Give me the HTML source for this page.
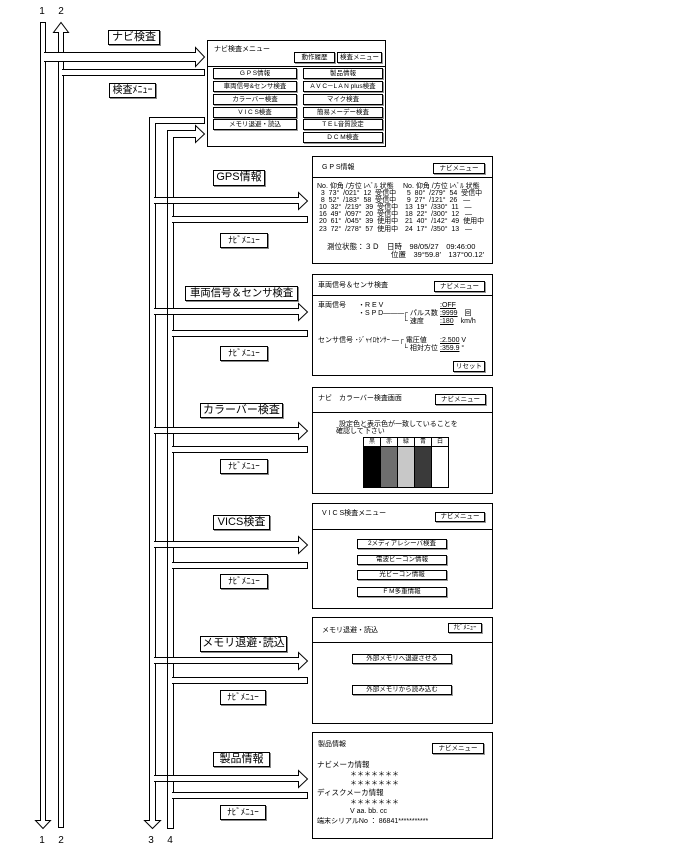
<!DOCTYPE html>
<html><head><meta charset="utf-8"><style>
body{margin:0;background:#fff;}
#c{position:relative;width:689px;height:853px;overflow:hidden;font-family:"Liberation Sans","Noto Sans CJK JP",sans-serif;color:#000;}
.bx{position:absolute;border:1px solid #000;background:#fff;box-sizing:border-box;}
.lb{position:absolute;border:1px solid #000;background:#fff;box-sizing:border-box;font-size:11px;line-height:13px;text-align:center;white-space:nowrap;box-shadow:1px 1px 0 #888;overflow:hidden;}
.bt{position:absolute;border:1px solid #000;box-sizing:border-box;font-size:6.5px;text-align:center;white-space:nowrap;background:#fff;box-shadow:1px 1px 0 #999;}
.t{position:absolute;font-size:7px;line-height:7px;white-space:nowrap;}
.hl{position:absolute;height:1px;background:#000;}
</style></head><body><div id="c">
<svg width="689" height="853" style="position:absolute;left:0;top:0" fill="#fff" stroke="#000" stroke-width="1">
<text x="42" y="14" font-size="10" fill="#000" stroke="none" text-anchor="middle" font-family="Liberation Sans">1</text>
<text x="61" y="14" font-size="10" fill="#000" stroke="none" text-anchor="middle" font-family="Liberation Sans">2</text>
<text x="42" y="843" font-size="10" fill="#000" stroke="none" text-anchor="middle" font-family="Liberation Sans">1</text>
<text x="61" y="843" font-size="10" fill="#000" stroke="none" text-anchor="middle" font-family="Liberation Sans">2</text>
<text x="151" y="843" font-size="10" fill="#000" stroke="none" text-anchor="middle" font-family="Liberation Sans">3</text>
<text x="170" y="843" font-size="10" fill="#000" stroke="none" text-anchor="middle" font-family="Liberation Sans">4</text>
<path d="M40.5,820.5 V22.5 H45.5 V820.5 H50.5 L43,828.5 L35.5,820.5 Z"/>
<path d="M58.5,827.5 V32.5 H53.5 L61,22.5 L68.5,32.5 H63.5 V827.5 Z"/>
<path d="M44,52.5 H195.5 V47.5 L204.5,57 L195.5,66.5 V61.5 H44"/>
<path d="M62,69.5 H204.5 V75.5 H62"/>
<path d="M149.5,820.5 V117.5 H204.5 V123.5 H155.5 V820.5 H160.5 L152.5,828.5 L144.5,820.5 Z"/>
<path d="M167.5,828.5 V130.5 H195.5 V125.5 L204.5,134 L195.5,142.5 V137.5 H173.5 V828.5 Z"/>
<g>
<path d="M154,197.5 H298.5 V192.5 L307.5,201 L298.5,209.5 V203.5 H154"/><line x1="167.5" y1="197" x2="167.5" y2="204"/><path d="M172,216.5 H307.5 V222.5 H172"/>
<path d="M154,308.5 H298.5 V303.5 L307.5,312 L298.5,320.5 V314.5 H154"/><line x1="167.5" y1="308" x2="167.5" y2="315"/><path d="M172,330.5 H307.5 V336.5 H172"/>
<path d="M154,427.5 H298.5 V422.5 L307.5,431 L298.5,439.5 V433.5 H154"/><line x1="167.5" y1="427" x2="167.5" y2="434"/><path d="M172,446.5 H307.5 V452.5 H172"/>
<path d="M154,541.5 H298.5 V536.5 L307.5,545 L298.5,553.5 V547.5 H154"/><line x1="167.5" y1="541" x2="167.5" y2="548"/><path d="M172,562.5 H307.5 V568.5 H172"/>
<path d="M154,657.5 H298.5 V652.5 L307.5,661 L298.5,669.5 V663.5 H154"/><line x1="167.5" y1="657" x2="167.5" y2="664"/><path d="M172,677.5 H307.5 V683.5 H172"/>
<path d="M154,775.5 H298.5 V770.5 L307.5,779 L298.5,787.5 V781.5 H154"/><line x1="167.5" y1="775" x2="167.5" y2="782"/><path d="M172,792.5 H307.5 V798.5 H172"/>
</g>
</svg>

<div class="lb" style="left:108px;top:30px;width:52px;height:15px;">ナビ検査</div>
<div class="lb" style="left:109px;top:83px;width:47px;height:15px;font-size:10px;">検査ﾒﾆｭｰ</div>
<div class="lb" style="left:213px;top:170px;width:52px;height:16px;">GPS情報</div>
<div class="lb" style="left:220px;top:233px;width:48px;height:15px;font-size:9px;">ﾅﾋﾞﾒﾆｭｰ</div>
<div class="lb" style="left:185px;top:286px;width:113px;height:15px;font-size:10.5px;letter-spacing:-0.2px;">車両信号＆センサ検査</div>
<div class="lb" style="left:220px;top:346px;width:48px;height:15px;font-size:9px;">ﾅﾋﾞﾒﾆｭｰ</div>
<div class="lb" style="left:200px;top:403px;width:83px;height:15px;">カラーバー検査</div>
<div class="lb" style="left:220px;top:459px;width:48px;height:15px;font-size:9px;">ﾅﾋﾞﾒﾆｭｰ</div>
<div class="lb" style="left:213px;top:515px;width:57px;height:15px;">VICS検査</div>
<div class="lb" style="left:220px;top:574px;width:48px;height:15px;font-size:9px;">ﾅﾋﾞﾒﾆｭｰ</div>
<div class="lb" style="left:200px;top:636px;width:87px;height:16px;">メモリ退避･読込</div>
<div class="lb" style="left:220px;top:690px;width:46px;height:15px;font-size:9px;">ﾅﾋﾞﾒﾆｭｰ</div>
<div class="lb" style="left:213px;top:752px;width:57px;height:15px;">製品情報</div>
<div class="lb" style="left:220px;top:805px;width:46px;height:15px;font-size:9px;">ﾅﾋﾞﾒﾆｭｰ</div>

<div class="bx" style="left:207px;top:40px;width:179px;height:107px;"></div>
<div class="hl" style="left:207px;top:66px;width:179px;"></div>
<div class="t" style="left:214px;top:46px;">ナビ検査メニュー</div>
<div class="bt" style="left:294px;top:52px;width:41px;height:11px;line-height:9px;">動作履歴</div>
<div class="bt" style="left:337px;top:52px;width:45px;height:11px;line-height:9px;">検査メニュー</div>
<div class="bt" style="left:213px;top:68px;width:84px;height:11px;line-height:9px;">G P S情報</div>
<div class="bt" style="left:213px;top:81px;width:84px;height:11px;line-height:9px;">車両信号&amp;センサ検査</div>
<div class="bt" style="left:213px;top:94px;width:84px;height:11px;line-height:9px;">カラーバー検査</div>
<div class="bt" style="left:213px;top:107px;width:84px;height:11px;line-height:9px;">V I C S検査</div>
<div class="bt" style="left:213px;top:119px;width:84px;height:11px;line-height:9px;">メモリ退避・読込</div>
<div class="bt" style="left:303px;top:68px;width:80px;height:11px;line-height:9px;">製品情報</div>
<div class="bt" style="left:303px;top:81px;width:80px;height:11px;line-height:9px;">A V C－L A N plus検査</div>
<div class="bt" style="left:303px;top:94px;width:80px;height:11px;line-height:9px;">マイク検査</div>
<div class="bt" style="left:303px;top:107px;width:80px;height:11px;line-height:9px;">簡易メーデー検査</div>
<div class="bt" style="left:303px;top:119px;width:80px;height:11px;line-height:9px;">T E L音質設定</div>
<div class="bt" style="left:303px;top:132px;width:80px;height:11px;line-height:9px;">D C M検査</div>

<div class="bx" style="left:312px;top:156px;width:181px;height:108px;"></div>
<div class="hl" style="left:312px;top:177px;width:181px;"></div>
<div class="t" style="left:322px;top:164px;">G P S情報</div>
<div class="bt" style="left:433px;top:163px;width:52px;height:11px;line-height:9px;">ナビメニュー</div>
<div class="t" style="left:317px;top:183px;font-size:7px;line-height:7.1px;white-space:pre;">No. 仰角 /方位 ﾚﾍﾞﾙ 状態
  3  73°  /021°  12  受信中
  8  52°  /183°  58  受信中
 10  32°  /219°  39  受信中
 16  49°  /097°  20  受信中
 20  61°  /045°  39  使用中
 23  72°  /278°  57  使用中</div>
<div class="t" style="left:403px;top:183px;font-size:7px;line-height:7.1px;white-space:pre;">No. 仰角 /方位 ﾚﾍﾞﾙ 状態
  5  80°  /279°  54  受信中
  9  27°  /121°  26   ―
 13  19°  /330°  11   ―
 18  22°  /300°  12   ―
 21  40°  /142°  49  使用中
 24  17°  /350°  13   ―</div>
<div class="t" style="left:327px;top:243px;font-size:7.5px;">測位状態：３Ｄ　日時　98/05/27　09:46:00</div>
<div class="t" style="left:391px;top:251px;font-size:7.5px;">位置　39°59.8′　137°00.12′</div>

<div class="bx" style="left:312px;top:274px;width:181px;height:102px;"></div>
<div class="hl" style="left:312px;top:295px;width:181px;"></div>
<div class="t" style="left:318px;top:282px;">車両信号＆センサ検査</div>
<div class="bt" style="left:434px;top:281px;width:51px;height:11px;line-height:9px;">ナビメニュー</div>
<div class="t" style="left:318px;top:302px;">車両信号</div>
<div class="t" style="left:358px;top:302px;">・R E V</div>
<div class="t" style="left:440px;top:302px;text-decoration:underline;">:OFF</div>
<div class="t" style="left:358px;top:310px;">・S P D―――</div>
<div class="t" style="left:403px;top:310px;">┌ パルス数</div>
<div class="t" style="left:440px;top:310px;"><u>:9999</u>　回</div>
<div class="t" style="left:403px;top:318px;">└ 速度</div>
<div class="t" style="left:440px;top:318px;"><u>:180</u>　km/h</div>
<div class="t" style="left:318px;top:337px;">センサ信号 ･ｼﾞｬｲﾛｾﾝｻｰ ―┌ 電圧値</div>
<div class="t" style="left:440px;top:337px;"><u>:2.500</u> V</div>
<div class="t" style="left:403px;top:345px;">└ 相対方位</div>
<div class="t" style="left:440px;top:345px;"><u>:359.9</u> °</div>
<div class="bt" style="left:453px;top:361px;width:32px;height:11px;line-height:9px;">リセット</div>

<div class="bx" style="left:312px;top:387px;width:181px;height:107px;"></div>
<div class="hl" style="left:312px;top:412px;width:181px;"></div>
<div class="t" style="left:318px;top:395px;">ナビ　カラーバー検査画面</div>
<div class="bt" style="left:435px;top:394px;width:51px;height:11px;line-height:9px;">ナビメニュー</div>
<div class="t" style="left:339px;top:421px;">設定色と表示色が一致していることを</div>
<div class="t" style="left:336px;top:428px;">確認して下さい</div>
<div style="position:absolute;left:363px;top:437px;width:86px;height:51px;border:1px solid #000;box-sizing:border-box;display:flex;">
<div style="flex:1;border-right:1px solid #000;display:flex;flex-direction:column;"><div class="t" style="position:static;height:8px;border-bottom:1px solid #000;text-align:center;font-size:6px;line-height:8px;">黒</div><div style="flex:1;background:#000;"></div></div>
<div style="flex:1;border-right:1px solid #000;display:flex;flex-direction:column;"><div class="t" style="position:static;height:8px;border-bottom:1px solid #000;text-align:center;font-size:6px;line-height:8px;">赤</div><div style="flex:1;background:#6e6e6e;"></div></div>
<div style="flex:1;border-right:1px solid #000;display:flex;flex-direction:column;"><div class="t" style="position:static;height:8px;border-bottom:1px solid #000;text-align:center;font-size:6px;line-height:8px;">緑</div><div style="flex:1;background:#c8c8c8;"></div></div>
<div style="flex:1;border-right:1px solid #000;display:flex;flex-direction:column;"><div class="t" style="position:static;height:8px;border-bottom:1px solid #000;text-align:center;font-size:6px;line-height:8px;">青</div><div style="flex:1;background:#3a3a3a;"></div></div>
<div style="flex:1;display:flex;flex-direction:column;"><div class="t" style="position:static;height:8px;border-bottom:1px solid #000;text-align:center;font-size:6px;line-height:8px;">白</div><div style="flex:1;background:#fff;"></div></div>
</div>

<div class="bx" style="left:312px;top:503px;width:181px;height:106px;"></div>
<div class="hl" style="left:312px;top:529px;width:181px;"></div>
<div class="t" style="left:322px;top:510px;">V I C S検査メニュー</div>
<div class="bt" style="left:435px;top:512px;width:50px;height:10px;line-height:8px;">ナビメニュー</div>
<div class="bt" style="left:357px;top:539px;width:90px;height:10px;line-height:8px;">2メディアレシーバ検査</div>
<div class="bt" style="left:357px;top:555px;width:90px;height:10px;line-height:8px;">電波ビーコン情報</div>
<div class="bt" style="left:357px;top:570px;width:90px;height:10px;line-height:8px;">光ビーコン情報</div>
<div class="bt" style="left:357px;top:587px;width:90px;height:10px;line-height:8px;">F M多重情報</div>

<div class="bx" style="left:312px;top:617px;width:181px;height:107px;"></div>
<div class="hl" style="left:312px;top:642px;width:181px;"></div>
<div class="t" style="left:322px;top:627px;">メモリ退避・読込</div>
<div class="bt" style="left:448px;top:623px;width:34px;height:10px;line-height:8px;">ﾅﾋﾞﾒﾆｭｰ</div>
<div class="bt" style="left:352px;top:654px;width:100px;height:10px;line-height:8px;">外部メモリへ退避させる</div>
<div class="bt" style="left:352px;top:685px;width:100px;height:10px;line-height:8px;">外部メモリから読み込む</div>

<div class="bx" style="left:312px;top:732px;width:181px;height:107px;"></div>
<div class="t" style="left:318px;top:741px;">製品情報</div>
<div class="bt" style="left:432px;top:743px;width:52px;height:11px;line-height:9px;">ナビメニュー</div>
<div class="t" style="left:317px;top:761px;font-size:7.5px;">ナビメーカ情報</div>
<div class="t" style="left:350px;top:771px;">＊＊＊＊＊＊＊</div>
<div class="t" style="left:350px;top:780px;">＊＊＊＊＊＊＊</div>
<div class="t" style="left:317px;top:789px;font-size:7.5px;">ディスクメーカ情報</div>
<div class="t" style="left:350px;top:799px;">＊＊＊＊＊＊＊</div>
<div class="t" style="left:350px;top:808px;">V aa. bb. cc</div>
<div class="t" style="left:317px;top:818px;">端末シリアルNo ： 86841***********</div>
</div></body></html>
